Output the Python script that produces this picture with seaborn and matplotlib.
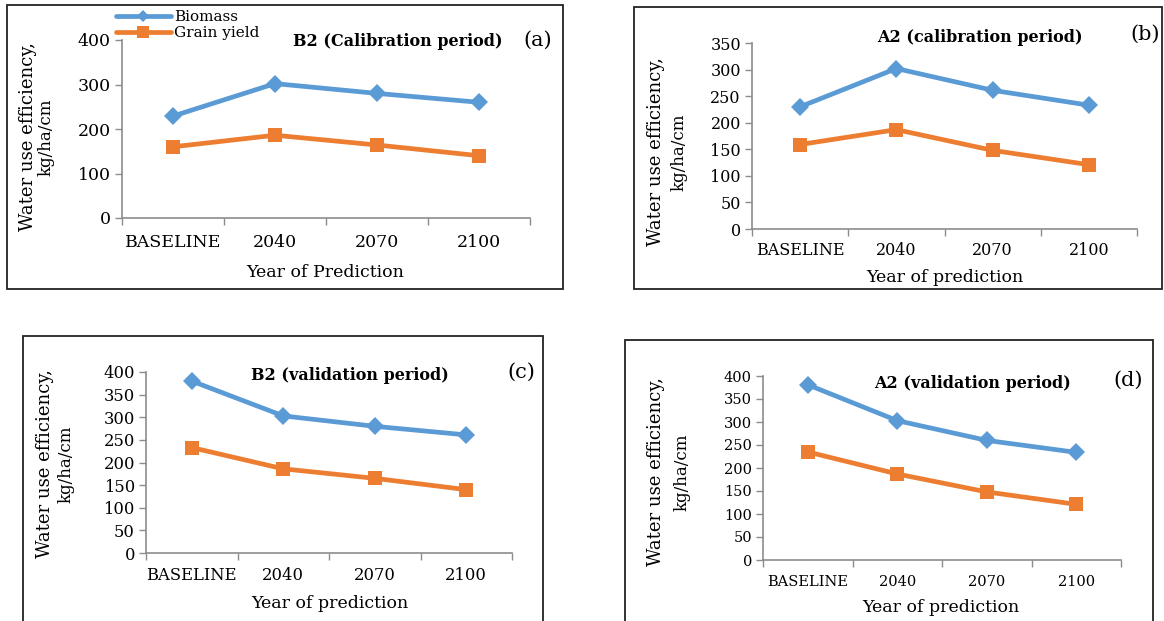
import pandas as pd
import matplotlib.pyplot as plt
import seaborn as sns
from matplotlib.patches import Rectangle
from matplotlib.ticker import FixedLocator

years = ['BASELINE', '2040', '2070', '2100']

# panel (a) B2 calibration
biomass_a = [229, 302, 280, 260]
grain_a = [160, 186, 164, 140]
# panel (b) A2 calibration
biomass_b = [230, 302, 261, 233]
grain_b = [159, 187, 148, 121]
# panel (c) B2 validation
biomass_c = [380, 303, 280, 261]
grain_c = [233, 186, 165, 140]
# panel (d) A2 validation
biomass_d = [381, 303, 260, 234]
grain_d = [235, 187, 148, 121]

sns.set_style('white')
plt.rcParams['font.family'] = ['DejaVu Serif']
plt.rcParams['text.color'] = 'black'
plt.rcParams['xtick.labelcolor'] = 'black'
plt.rcParams['ytick.labelcolor'] = 'black'

W, H = 1164, 621
fig = plt.figure(figsize=(W / 100, H / 100), dpi=100)


def fx(x):
    return x / W


def fy(y):
    return 1 - y / H


def px_axes(l, r, t, b):
    return fig.add_axes([fx(l), fy(b), fx(r - l), (b - t) / H])


blue = '#5B9BD5'
orange = '#ED7D31'
spine_col = '#8C8C8C'

panels = [
    dict(box=(7, 563, 5, 289), ax=(122, 530, 40, 218), ymax=400, step=100,
         bio=biomass_a, grain=grain_a, title='B2 (Calibration period)', txy=(398, 42),
         letter='(a)', lxy=(538, 40), xlabel='Year of Prediction', xlxy=(325, 273),
         ylx=(28, 46), ylc=137, tfs=12.5, ticky=243),
    dict(box=(634, 1162, 7, 289), ax=(752, 1137, 43, 229), ymax=350, step=50,
         bio=biomass_b, grain=grain_b, title='A2 (calibration period)', txy=(980, 38),
         letter='(b)', lxy=(1145, 34), xlabel='Year of prediction', xlxy=(945, 277),
         ylx=(656, 679), ylc=152, tfs=11.5, ticky=250),
    dict(box=(23, 543, 336, 640), ax=(146, 512, 372, 553), ymax=400, step=50,
         bio=biomass_c, grain=grain_c, title='B2 (validation period)', txy=(350, 376),
         letter='(c)', lxy=(521, 372), xlabel='Year of prediction', xlxy=(330, 603),
         ylx=(45, 66), ylc=464, tfs=11.8, ticky=575),
    dict(box=(625, 1153, 340, 640), ax=(763, 1121, 376, 560), ymax=400, step=50,
         bio=biomass_d, grain=grain_d, title='A2 (validation period)', txy=(972, 383),
         letter='(d)', lxy=(1128, 380), xlabel='Year of prediction', xlxy=(941, 608),
         ylx=(656, 682), ylc=472, tfs=10.5, ticky=582),
]

for i, p in enumerate(panels):
    l, r, t, b = p['box']
    fig.add_artist(Rectangle((fx(l), fy(b)), fx(r - l), (b - t) / H,
                             transform=fig.transFigure, fill=False,
                             edgecolor='#222222', linewidth=1.3))

    df = pd.DataFrame({
        'Year': years * 2,
        'WUE': p['bio'] + p['grain'],
        'Series': ['Biomass'] * 4 + ['Grain yield'] * 4,
    })
    ax = px_axes(*p['ax'])
    sns.lineplot(data=df, x='Year', y='WUE', hue='Series', style='Series',
                 palette={'Biomass': blue, 'Grain yield': orange},
                 markers={'Biomass': 'D', 'Grain yield': 's'}, dashes=False,
                 markersize=9, markeredgewidth=0, linewidth=3.4, ax=ax,
                 legend=(i == 0))
    for line in ax.lines:
        if line.get_marker() == 's':
            line.set_markersize(10.5)

    ax.set_xlim(-0.5, 3.5)
    ax.set_ylim(0, p['ymax'])
    ax.set_yticks(range(0, p['ymax'] + 1, p['step']))
    ax.set_xticks(range(4))
    ax.set_xticklabels(years)
    ax.xaxis.set_minor_locator(FixedLocator([-0.5, 0.5, 1.5, 2.5, 3.5]))
    ax.tick_params(axis='x', which='major', length=0, labelsize=p['tfs'],
                   pad=(p['ticky'] - p['ax'][3]) * 0.72 - p['tfs'] * 0.5)
    ax.tick_params(axis='x', which='minor', length=5, width=1, color=spine_col,
                   direction='out', bottom=True)
    ax.tick_params(axis='y', length=5, width=1, color=spine_col, direction='out',
                   left=True, labelsize=p['tfs'], pad=3)
    for s in ['top', 'right']:
        ax.spines[s].set_visible(False)
    for s in ['left', 'bottom']:
        ax.spines[s].set_color(spine_col)
        ax.spines[s].set_linewidth(1.2)
    ax.set_xlabel('')
    ax.set_ylabel('')
    ax.patch.set_alpha(0)

    fig.text(fx(p['txy'][0]), fy(p['txy'][1]), p['title'], ha='center', va='center',
             fontsize=11.5, fontweight='bold')
    fig.text(fx(p['lxy'][0]), fy(p['lxy'][1]), p['letter'], ha='center', va='center',
             fontsize=15)
    fig.text(fx(p['xlxy'][0]), fy(p['xlxy'][1]), p['xlabel'], ha='center', va='center',
             fontsize=12.5)
    fig.text(fx(p['ylx'][0]), fy(p['ylc']), 'Water use efficiency,', ha='center',
             va='center', rotation=90, fontsize=13)
    fig.text(fx(p['ylx'][1]), fy(p['ylc']), 'kg/ha/cm', ha='center',
             va='center', rotation=90, fontsize=12)

    if i == 0:
        leg = ax.legend(loc='center left', bbox_to_anchor=(fx(108), fy(25)),
                        bbox_transform=fig.transFigure, frameon=False,
                        fontsize=11, handlelength=3.6, handletextpad=0.2,
                        labelspacing=0.15, borderpad=0)
        for h in leg.legend_handles:
            h.set_linewidth(3.4)
        leg.legend_handles[0].set_markersize(6)
        leg.legend_handles[1].set_markersize(9)

fig.savefig('out.png', dpi=100, facecolor='white')
